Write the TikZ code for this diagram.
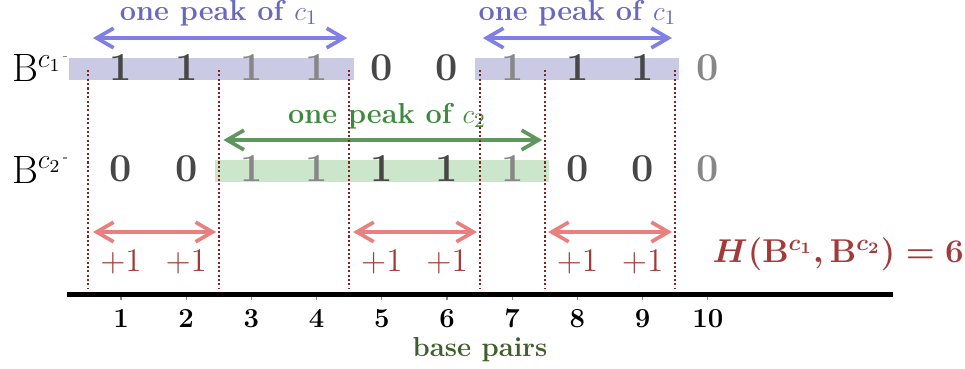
\documentclass[tikz,border=0pt]{standalone}
\usepackage{xcolor}
\usepackage{amsmath, amssymb}
\usepackage{tikz}
\usetikzlibrary{arrows.meta, positioning}
\definecolor{barblue}{RGB}{202,202,228}
\definecolor{arrblue}{RGB}{127,127,228}
\definecolor{txtblue}{RGB}{104,104,190}
\definecolor{bargreen}{RGB}{204,230,204}
\definecolor{arrgreen}{RGB}{94,150,94}
\definecolor{txtgreen}{RGB}{60,138,60}
\definecolor{arrred}{RGB}{232,128,128}
\definecolor{txtred}{RGB}{163,58,58}
\definecolor{sepred}{RGB}{139,30,30}
\definecolor{axgreen}{RGB}{63,95,42}
\tikzset{
  bitdark/.style    = {font=\LARGE\bfseries, text=black!72, inner sep=0pt, anchor=base},
  bitlight/.style   = {font=\LARGE\bfseries, text=black!47, inner sep=0pt, anchor=base},
  rowlabel/.style   = {font=\fontsize{16.5}{19}\selectfont, inner sep=0pt, anchor=base east},
  peaklabel/.style  = {font=\fontsize{12.6}{15}\selectfont\bfseries, inner sep=0pt, anchor=base},
  peakarrow/.style  = {{Straight Barb[length=2.6mm,width=3.0mm]}-{Straight Barb[length=2.6mm,width=3.0mm]},
                       line width=1.6pt},
  separator/.style  = {densely dotted, line width=0.9pt, sepred},
  plusone/.style    = {font=\Large, text=txtred, inner sep=0pt, anchor=base},
  distlabel/.style  = {font=\Large\boldmath, text=txtred, inner sep=0pt, anchor=base},
  ticklabel/.style  = {font=\large\bfseries, inner sep=0pt, anchor=base},
  tickmark/.style   = {black!45, line width=0.5pt},
}
\begin{document}
\begin{tikzpicture}
  \useasboundingbox (-0.856,0) rectangle (13.944,-5.644);

  % Peaks as shaded bars
  \fill[barblue]  (0.20,-0.89) rectangle (4.57,-1.227);
  \fill[barblue]  (6.43,-0.89) rectangle (9.56,-1.227);
  \fill[bargreen] (2.44,-2.454) rectangle (7.56,-2.79);

  % Row labels
  \node[rowlabel] (lab1) at (0.095,-1.25) {$\mathrm{B}^{c_1}$};
  \node[rowlabel] (lab2) at (0.095,-2.81) {$\mathrm{B}^{c_2}$};
  \draw[tickmark] (lab1.east) ++(0.02,0.18) -- ++(0.06,0);
  \draw[tickmark] (lab2.east) ++(0.02,0.18) -- ++(0.06,0);

  % Bits of c1
  \node[bitdark]  (a1)  at (1,-1.227)  {1};
  \node[bitdark]  (a2)  at (2,-1.227)  {1};
  \node[bitlight] (a3)  at (3,-1.227)  {1};
  \node[bitlight] (a4)  at (4,-1.227)  {1};
  \node[bitdark]  (a5)  at (5,-1.227)  {0};
  \node[bitdark]  (a6)  at (6,-1.227)  {0};
  \node[bitlight] (a7)  at (7,-1.227)  {1};
  \node[bitdark]  (a8)  at (8,-1.227)  {1};
  \node[bitdark]  (a9)  at (9,-1.227)  {1};
  \node[bitlight] (a10) at (10,-1.227) {0};

  % Bits of c2
  \node[bitdark]  (b1)  at (1,-2.79)  {0};
  \node[bitdark]  (b2)  at (2,-2.79)  {0};
  \node[bitlight] (b3)  at (3,-2.79)  {1};
  \node[bitlight] (b4)  at (4,-2.79)  {1};
  \node[bitdark]  (b5)  at (5,-2.79)  {1};
  \node[bitdark]  (b6)  at (6,-2.79)  {1};
  \node[bitlight] (b7)  at (7,-2.79)  {1};
  \node[bitdark]  (b8)  at (8,-2.79)  {0};
  \node[bitdark]  (b9)  at (9,-2.79)  {0};
  \node[bitlight] (b10) at (10,-2.79) {0};

  % Peak arrows and labels
  \coordinate (p1l) at (0.57,-0.583);
  \coordinate (p1r) at (4.47,-0.583);
  \coordinate (p2l) at (6.55,-0.583);
  \coordinate (p2r) at (9.45,-0.583);
  \coordinate (q1l) at (2.57,-2.147);
  \coordinate (q1r) at (7.46,-2.147);
  \draw[peakarrow, arrblue]  (p1l) -- (p1r);
  \draw[peakarrow, arrblue]  (p2l) -- (p2r);
  \draw[peakarrow, arrgreen] (q1l) -- (q1r);
  \node[peaklabel, text=txtblue]  (pk1) at (2.5,-0.307)  {one peak of $c_1$};
  \node[peaklabel, text=txtblue]  (pk2) at (8.0,-0.307)  {one peak of $c_1$};
  \node[peaklabel, text=txtgreen] (pk3) at (5.08,-1.887) {one peak of $c_2$};

  % Peak boundaries
  \coordinate (s1t) at (0.5,-1.074);  \coordinate (s1b) at (0.5,-4.42);
  \coordinate (s2t) at (2.5,-1.074);  \coordinate (s2b) at (2.5,-4.42);
  \coordinate (s3t) at (4.5,-1.074);  \coordinate (s3b) at (4.5,-4.42);
  \coordinate (s4t) at (6.5,-1.074);  \coordinate (s4b) at (6.5,-4.42);
  \coordinate (s5t) at (7.5,-1.074);  \coordinate (s5b) at (7.5,-4.42);
  \coordinate (s6t) at (9.5,-1.074);  \coordinate (s6b) at (9.5,-4.42);
  \draw[separator] (s1t) -- (s1b);
  \draw[separator] (s2t) -- (s2b);
  \draw[separator] (s3t) -- (s3b);
  \draw[separator] (s4t) -- (s4b);
  \draw[separator] (s5t) -- (s5b);
  \draw[separator] (s6t) -- (s6b);

  % Mismatch arrows
  \coordinate (m1l) at (0.57,-3.558); \coordinate (m1r) at (2.46,-3.558);
  \coordinate (m2l) at (4.56,-3.558); \coordinate (m2r) at (6.46,-3.558);
  \coordinate (m3l) at (7.55,-3.558); \coordinate (m3r) at (9.45,-3.558);
  \draw[peakarrow, arrred] (m1l) -- (m1r);
  \draw[peakarrow, arrred] (m2l) -- (m2r);
  \draw[peakarrow, arrred] (m3l) -- (m3r);
  \node[plusone] (c1) at (1,-4.17) {$+1$};
  \node[plusone] (c2) at (2,-4.17) {$+1$};
  \node[plusone] (c5) at (5,-4.17) {$+1$};
  \node[plusone] (c6) at (6,-4.17) {$+1$};
  \node[plusone] (c8) at (8,-4.17) {$+1$};
  \node[plusone] (c9) at (9,-4.17) {$+1$};
  \node[distlabel] (dist) at (12.0,-4.02) {$H(\mathrm{B}^{c_1},\mathrm{B}^{c_2}) = 6$};

  % Axis
  \coordinate (axl) at (0.172,-4.517);
  \coordinate (axr) at (12.84,-4.517);
  \draw[line width=2.2pt] (axl) -- (axr);
  \node[ticklabel] (t1)  at (1,-5.015)  {1};
  \node[ticklabel] (t2)  at (2,-5.015)  {2};
  \node[ticklabel] (t3)  at (3,-5.015)  {3};
  \node[ticklabel] (t4)  at (4,-5.015)  {4};
  \node[ticklabel] (t5)  at (5,-5.015)  {5};
  \node[ticklabel] (t6)  at (6,-5.015)  {6};
  \node[ticklabel] (t7)  at (7,-5.015)  {7};
  \node[ticklabel] (t8)  at (8,-5.015)  {8};
  \node[ticklabel] (t9)  at (9,-5.015)  {9};
  \node[ticklabel] (t10) at (10,-5.015) {10};
  \draw[tickmark] (t1 |- axl)  ++(0,-0.04) -- ++(0,-0.05);
  \draw[tickmark] (t2 |- axl)  ++(0,-0.04) -- ++(0,-0.05);
  \draw[tickmark] (t3 |- axl)  ++(0,-0.04) -- ++(0,-0.05);
  \draw[tickmark] (t4 |- axl)  ++(0,-0.04) -- ++(0,-0.05);
  \draw[tickmark] (t5 |- axl)  ++(0,-0.04) -- ++(0,-0.05);
  \draw[tickmark] (t6 |- axl)  ++(0,-0.04) -- ++(0,-0.05);
  \draw[tickmark] (t7 |- axl)  ++(0,-0.04) -- ++(0,-0.05);
  \draw[tickmark] (t8 |- axl)  ++(0,-0.04) -- ++(0,-0.05);
  \draw[tickmark] (t9 |- axl)  ++(0,-0.04) -- ++(0,-0.05);
  \draw[tickmark] (t10 |- axl) ++(0,-0.04) -- ++(0,-0.05);
  \node[font=\large\bfseries, text=axgreen, inner sep=0pt, anchor=base] (xlab) at (6.506,-5.475) {base pairs};

\end{tikzpicture}
\end{document}
